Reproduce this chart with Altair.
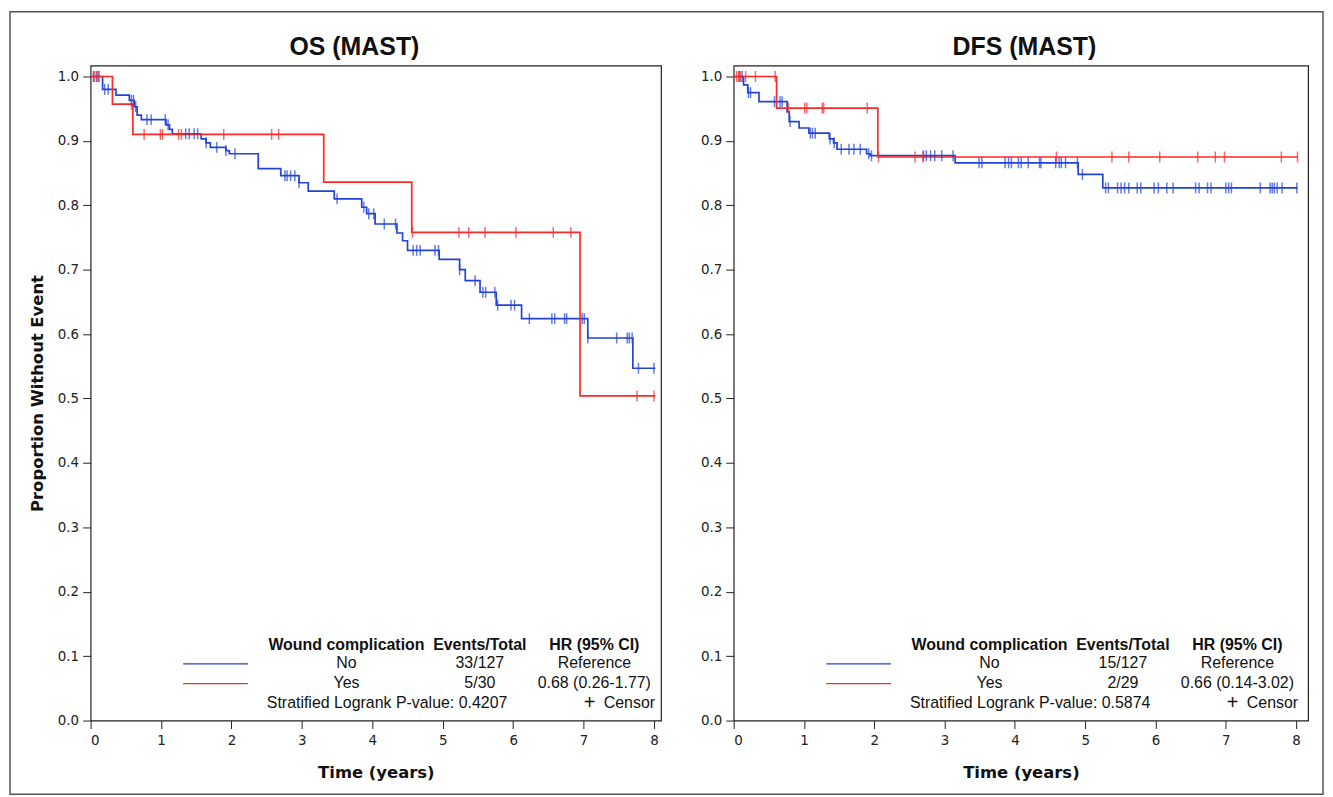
import altair as alt
import numpy as np
import pandas as pd

# ---------------- data ----------------
# OS (MAST) -- Wound complication = No
os_no_t = [0, 0.17, 0.36, 0.55, 0.62, 0.66, 0.72, 1.07, 1.12, 1.16, 1.57, 1.64, 1.70, 1.92, 1.97,
           2.38, 2.70, 2.96, 3.09, 3.46, 3.85, 3.92, 4.04, 4.35, 4.43, 4.50, 4.95, 5.24, 5.32,
           5.53, 5.76, 6.12, 7.06, 7.70, 8.02]
os_no_s = [1.0, 0.980, 0.971, 0.963, 0.953, 0.940, 0.933, 0.925, 0.918, 0.911, 0.903, 0.897, 0.890,
           0.885, 0.880, 0.857, 0.846, 0.835, 0.822, 0.810, 0.797, 0.787, 0.771, 0.757, 0.745, 0.730,
           0.716, 0.700, 0.683, 0.665, 0.645, 0.624, 0.594, 0.547, 0.547]
os_no_cens = [0.04, 0.08, 0.11, 0.20, 0.25, 0.58, 0.61, 0.64, 0.80, 0.86, 1.06, 1.10, 1.35, 1.40, 1.47,
              1.52, 1.64, 1.79, 1.92, 2.05, 2.76, 2.79, 2.84, 2.90, 2.96, 3.50, 3.88, 3.95, 4.02, 4.17,
              4.33, 4.58, 4.63, 4.68, 4.89, 4.94, 5.24, 5.46, 5.57, 5.61, 5.74, 5.78, 5.97, 6.02, 6.23,
              6.55, 6.59, 6.73, 6.76, 6.98, 7.01, 7.06, 7.47, 7.62, 7.65, 7.69, 7.78, 8.00]
# OS (MAST) -- Wound complication = Yes
os_yes_t = [0, 0.31, 0.60, 3.31, 4.56, 6.95, 8.02]
os_yes_s = [1.0, 0.957, 0.910, 0.836, 0.758, 0.504, 0.504]
os_yes_cens = [0.05, 0.09, 0.12, 0.58, 0.76, 0.99, 1.02, 1.25, 1.29, 1.89, 2.57, 2.67, 4.57, 5.23,
               5.37, 5.60, 6.04, 6.57, 6.82, 7.76, 8.00]

# DFS (MAST) -- No
dfs_no_t = [0, 0.14, 0.20, 0.36, 0.76, 0.79, 0.93, 1.07, 1.36, 1.42, 1.47, 1.89, 1.94, 3.15, 4.90,
            5.25, 8.02]
dfs_no_s = [1.0, 0.987, 0.975, 0.961, 0.945, 0.930, 0.920, 0.912, 0.903, 0.897, 0.887, 0.880, 0.877,
            0.866, 0.848, 0.827, 0.827]
dfs_no_cens = [0.08, 0.12, 0.21, 0.24, 0.58, 0.66, 0.69, 0.80, 1.09, 1.12, 1.16, 1.37, 1.43, 1.53,
               1.64, 1.71, 1.80, 1.92, 1.96, 2.70, 2.74, 2.80, 2.86, 2.96, 3.12, 3.49, 3.53, 3.86,
               3.91, 3.95, 4.05, 4.09, 4.19, 4.35, 4.37, 4.58, 4.63, 4.66, 4.72, 4.89, 4.96, 5.29,
               5.33, 5.46, 5.51, 5.56, 5.62, 5.74, 5.79, 5.98, 6.04, 6.16, 6.25, 6.57, 6.62, 6.74,
               6.79, 7.00, 7.04, 7.08, 7.49, 7.63, 7.66, 7.69, 7.73, 7.80, 8.01]
# DFS (MAST) -- Yes
dfs_yes_t = [0, 0.61, 2.05, 8.02]
dfs_yes_s = [1.0, 0.951, 0.875, 0.875]
dfs_yes_cens = [0.04, 0.07, 0.10, 0.17, 0.31, 0.59, 0.78, 1.01, 1.04, 1.26, 1.28, 1.90, 2.06, 2.58,
                2.69, 4.59, 5.38, 5.62, 6.06, 6.60, 6.85, 6.98, 7.79, 8.02]

groups = ["No", "Yes"]
x_ticks = [0, 1, 2, 3, 4, 5, 6, 7, 8]
y_ticks = [0.0, 0.1, 0.2, 0.3, 0.4, 0.5, 0.6, 0.7, 0.8, 0.9, 1.0]

os_table = {"header": ["Wound complication", "Events/Total", "HR (95% CI)"],
            "No": ["No", "33/127", "Reference"],
            "Yes": ["Yes", "5/30", "0.68 (0.26-1.77)"],
            "p": "Stratified Logrank P-value: 0.4207"}
dfs_table = {"header": ["Wound complication", "Events/Total", "HR (95% CI)"],
             "No": ["No", "15/127", "Reference"],
             "Yes": ["Yes", "2/29", "0.66 (0.14-3.02)"],
             "p": "Stratified Logrank P-value: 0.5874"}

BLUE = "#2343d6"
RED = "#fa2a2a"
LEG_FONT = "Liberation Sans"
AX_FONT = "DejaVu Sans"

one = pd.DataFrame({"k": [0]})


def curve_df(t, s, g):
    return pd.DataFrame({"t": t, "s": s, "g": g})


def censor_df(ct, t, s, g):
    idx = np.searchsorted(np.array(t), np.array(ct), side="right") - 1
    return pd.DataFrame({"t": ct, "s": np.array(s)[idx], "g": g})


def txt(s, x, y, align="center", bold=False, size=16, baseline="middle"):
    return alt.Chart(one).mark_text(
        text=s, align=align, baseline=baseline, font=LEG_FONT, fontSize=size,
        fontWeight="bold" if bold else "normal", color="#111"
    ).encode(x=alt.value(x), y=alt.value(y))


def legend_layers(tab):
    cols = [257, 391, 506]
    rows = [582, 600, 620]
    layers = []
    for c, s in zip(cols, tab["header"]):
        layers.append(txt(s, c, rows[0], bold=True))
    for c, s in zip(cols, tab["No"]):
        layers.append(txt(s, c, rows[1]))
    for c, s in zip(cols, tab["Yes"]):
        layers.append(txt(s, c, rows[2]))
    layers.append(txt(tab["p"], 177, 640, align="left"))
    layers.append(txt("Censor", 567, 640, align="right"))
    layers.append(txt("+", 507, 640, align="right", size=20))
    layers.append(alt.Chart(one).mark_rule(color=BLUE, strokeWidth=1.3).encode(
        x=alt.value(93), x2=alt.value(158), y=alt.value(601)))
    layers.append(alt.Chart(one).mark_rule(color=RED, strokeWidth=1.3).encode(
        x=alt.value(93), x2=alt.value(158), y=alt.value(621)))
    return layers


def panel(title, title_x, width, xmax, no_t, no_s, yes_t, yes_s, no_c, yes_c, tab, ytitle, frame=False):
    curves = pd.concat([curve_df(no_t, no_s, "No"), curve_df(yes_t, yes_s, "Yes")])
    cens = pd.concat([censor_df(no_c, no_t, no_s, "No"), censor_df(yes_c, yes_t, yes_s, "Yes")])
    color = alt.Color("g:N", scale=alt.Scale(domain=groups, range=[BLUE, RED]), legend=None)
    x = alt.X("t:Q", scale=alt.Scale(domain=[0, xmax], nice=False, zero=False),
              axis=alt.Axis(values=x_ticks, format="d", title="Time (years)"))
    if ytitle:
        yaxis = alt.Axis(values=y_ticks, format=".1f", title=ytitle)
    else:
        yaxis = alt.Axis(values=y_ticks, format=".1f", title=None)
    y = alt.Y("s:Q", scale=alt.Scale(domain=[0, 1.017], nice=False), axis=yaxis)

    lines = alt.Chart(curves).mark_line(interpolate="step-after", strokeWidth=1.7).encode(
        x=x, y=y, color=color, detail="g:N")
    ticks = alt.Chart(cens).mark_tick(orient="vertical", size=11, thickness=1.5).encode(
        x="t:Q", y="s:Q", color=color)
    layers = [lines, ticks] + legend_layers(tab)
    layers.append(txt(title, title_x, -11, bold=True, size=25, baseline="alphabetic"))
    if frame:
        layers.append(alt.Chart(one).mark_rect(fillOpacity=0, stroke="#555", strokeWidth=1.5).encode(
            x=alt.value(-81), x2=alt.value(1238), y=alt.value(-54), y2=alt.value(732)))
    return alt.layer(*layers).properties(width=width, height=658)


left = panel("OS (MAST)", 265, 573, 8.1, os_no_t, os_no_s, os_yes_t, os_yes_s,
             os_no_cens, os_yes_cens, os_table, "Proportion Without Event", frame=True)
right = panel("DFS (MAST)", 292, 577, 8.17, dfs_no_t, dfs_no_s, dfs_yes_t, dfs_yes_s,
              dfs_no_cens, dfs_yes_cens, dfs_table, None)

chart = alt.hconcat(left, right, spacing=73, bounds="flush").properties(padding=0).configure_view(
    stroke="#222", strokeWidth=1.2
).configure_axis(
    domain=False, grid=False, tickColor="#222", tickSize=8, tickWidth=1,
    labelFont=AX_FONT, labelFontSize=13.5, labelColor="#222",
    titleFont=AX_FONT, titleFontSize=16.5, titleFontWeight="bold", titleColor="#111"
).configure_axisX(labelPadding=5, titlePadding=18).configure_axisY(labelPadding=4, titlePadding=12)

chart.save("out.html", embed_options={"renderer": "svg", "actions": False})
